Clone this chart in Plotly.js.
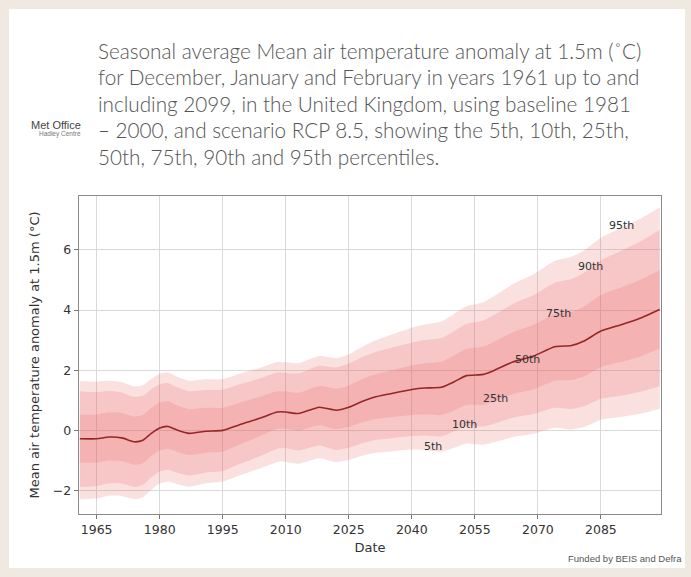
<!DOCTYPE html>
<html>
<head>
<meta charset="utf-8">
<script src="https://cdn.plot.ly/plotly-3.0.1.min.js"></script>
<style>
  html, body { margin: 0; padding: 0; background: #efe9e1; }
  #chart { width: 691px; height: 577px; }
</style>
</head>
<body>
<div id="chart"></div>
<script>
// ---- data ----
const years = [1961,1965,1968,1971,1974,1976,1978,1980,1982,1984,1987,1991,1995,1999,2004,2008,2010,2013,2018,2022,2025,2028,2031,2035,2040,2043,2047,2050,2053,2057,2060,2064,2069,2074,2078,2081,2085,2090,2094,2099];

const p50 = [-0.28,-0.28,-0.22,-0.25,-0.38,-0.33,-0.10,0.08,0.13,0.02,-0.10,-0.03,0.00,0.19,0.41,0.61,0.61,0.56,0.77,0.67,0.77,0.95,1.10,1.22,1.36,1.41,1.43,1.61,1.82,1.86,2.02,2.27,2.47,2.78,2.82,2.97,3.30,3.52,3.71,4.02];

const p75 = [0.52,0.53,0.60,0.58,0.46,0.51,0.75,0.93,0.97,0.84,0.70,0.75,0.75,0.92,1.12,1.30,1.29,1.25,1.47,1.38,1.49,1.69,1.85,1.99,2.16,2.23,2.28,2.48,2.71,2.78,2.97,3.26,3.51,3.87,3.94,4.12,4.50,4.76,4.98,5.32];

const p25 = [-1.08,-1.07,-1.00,-1.02,-1.14,-1.09,-0.85,-0.67,-0.61,-0.71,-0.82,-0.74,-0.70,-0.47,-0.19,0.05,0.06,-0.01,0.17,0.04,0.12,0.26,0.37,0.44,0.51,0.53,0.51,0.66,0.84,0.85,0.99,1.21,1.37,1.65,1.67,1.80,2.10,2.28,2.44,2.72];

const p90 = [1.30,1.27,1.31,1.26,1.11,1.15,1.36,1.53,1.57,1.44,1.30,1.34,1.35,1.53,1.73,1.92,1.91,1.89,2.15,2.09,2.22,2.42,2.59,2.74,2.91,3.00,3.07,3.29,3.54,3.65,3.87,4.20,4.50,4.91,5.03,5.24,5.65,5.98,6.25,6.67];

const p10 = [-1.88,-1.85,-1.76,-1.77,-1.88,-1.81,-1.56,-1.37,-1.31,-1.40,-1.50,-1.40,-1.35,-1.12,-0.85,-0.61,-0.59,-0.67,-0.50,-0.65,-0.58,-0.44,-0.33,-0.26,-0.19,-0.17,-0.20,-0.04,0.14,0.13,0.24,0.42,0.54,0.75,0.71,0.80,1.05,1.16,1.27,1.47];

const p95 = [1.64,1.62,1.65,1.60,1.46,1.50,1.71,1.88,1.92,1.79,1.65,1.70,1.70,1.88,2.08,2.27,2.26,2.23,2.47,2.40,2.52,2.76,2.97,3.17,3.41,3.52,3.62,3.86,4.13,4.26,4.50,4.86,5.19,5.63,5.77,5.98,6.40,6.74,7.01,7.42];

const p5 = [-2.30,-2.26,-2.17,-2.18,-2.29,-2.22,-1.97,-1.77,-1.70,-1.78,-1.87,-1.76,-1.70,-1.50,-1.26,-1.05,-1.04,-1.11,-0.93,-1.06,-0.98,-0.85,-0.75,-0.70,-0.64,-0.65,-0.71,-0.59,-0.44,-0.48,-0.38,-0.22,-0.11,0.09,0.03,0.11,0.35,0.45,0.54,0.72];

const labelText  = ["5th","10th","25th","50th","75th","90th","95th"];
const labelYears = [2045, 2052.5, 2060, 2067.5, 2075, 2082.5, 2090];
const labelVals  = [-0.54, 0.19, 1.06, 2.36, 3.89, 5.46, 6.80];

const xTicks = [1965,1980,1995,2010,2025,2040,2055,2070,2085];
const yTicks = [-2,0,2,4,6];

const titleLines = [
  "Seasonal average Mean air temperature anomaly at 1.5m (˚C)",
  "for December, January and February in years 1961 up to and",
  "including 2099, in the United Kingdom, using baseline 1981",
  "– 2000, and scenario RCP 8.5, showing the 5th, 10th, 25th,",
  "50th, 75th, 90th and 95th percentiles."
];

// ---- geometry helpers (pixel -> paper) ----
const L = 79, R = 661, T = 196, B = 514;
const px = X => (X - L) / (R - L);
const py = Y => (B - Y) / (B - T);

const bandFill = 'rgba(232,88,88,0.19)';
function band(up, lo) {
  return [
    {x: years, y: up, type: 'scatter', mode: 'lines', line: {width: 0, shape: 'spline', smoothing: 0.6}, hoverinfo: 'skip', showlegend: false},
    {x: years, y: lo, type: 'scatter', mode: 'lines', line: {width: 0, shape: 'spline', smoothing: 0.6}, fill: 'tonexty', fillcolor: bandFill, hoverinfo: 'skip', showlegend: false}
  ];
}

const traces = [
  ...band(p95, p5),
  ...band(p90, p10),
  ...band(p75, p25),
  {x: years, y: p50, type: 'scatter', mode: 'lines', line: {color: '#962626', width: 1.6, shape: 'spline', smoothing: 0.6}, showlegend: false}
];

const annotations = [];
titleLines.forEach((t, i) => {
  annotations.push({
    text: t, xref: 'paper', yref: 'paper', x: px(96), y: py(50.5 + i * 26.6),
    xanchor: 'left', yanchor: 'middle', showarrow: false, align: 'left',
    font: {family: 'Lato, "Open Sans", sans-serif', size: 20.7, weight: 300, color: '#555555'}
  });
});
labelText.forEach((t, i) => {
  annotations.push({
    text: t, x: labelYears[i], y: labelVals[i], xref: 'x', yref: 'y',
    showarrow: false, xanchor: 'center', yanchor: 'middle',
    font: {family: '"DejaVu Sans", sans-serif', size: 11, color: '#333'}
  });
});
annotations.push({
  text: 'Met Office', xref: 'paper', yref: 'paper', x: px(83), y: py(125),
  xanchor: 'right', yanchor: 'middle', showarrow: false,
  font: {family: '"Liberation Sans", Arial, sans-serif', size: 11, color: '#444'}
});
annotations.push({
  text: 'Hadley Centre', xref: 'paper', yref: 'paper', x: px(83), y: py(134),
  xanchor: 'right', yanchor: 'middle', showarrow: false,
  font: {family: '"Liberation Sans", Arial, sans-serif', size: 6.5, color: '#777'}
});
annotations.push({
  text: 'Funded by BEIS and Defra', xref: 'paper', yref: 'paper', x: px(684), y: py(558),
  xanchor: 'right', yanchor: 'middle', showarrow: false,
  font: {family: '"Liberation Sans", Arial, sans-serif', size: 9.5, color: '#555'}
});

const layout = {
  width: 691, height: 577,
  margin: {l: L, r: 691 - R, t: T, b: 577 - B, pad: 0},
  paper_bgcolor: '#efe9e1',
  plot_bgcolor: '#ffffff',
  font: {family: '"DejaVu Sans", sans-serif', color: '#333'},
  shapes: [{
    type: 'rect', xref: 'paper', yref: 'paper', layer: 'below',
    x0: px(9), x1: px(685), y0: py(568), y1: py(9),
    fillcolor: '#ffffff', line: {width: 0}
  }],
  xaxis: {
    range: [1960.8, 2099.3], tickmode: 'array', tickvals: xTicks,
    ticks: 'outside', ticklen: 4, tickcolor: '#777', tickwidth: 1,
    showline: true, linecolor: '#8a8a8a', linewidth: 1.2, mirror: true,
    showgrid: true, gridcolor: '#d9d9d9', gridwidth: 1, zeroline: false,
    tickfont: {size: 12.5, color: '#333'},
    title: {text: 'Date', font: {size: 13, color: '#333'}, standoff: 6}
  },
  yaxis: {
    range: [-2.78, 7.79], tickmode: 'array', tickvals: yTicks,
    ticks: 'outside', ticklen: 4, tickcolor: '#777', tickwidth: 1,
    showline: true, linecolor: '#8a8a8a', linewidth: 1.2, mirror: true,
    showgrid: true, gridcolor: '#d9d9d9', gridwidth: 1, zeroline: false,
    tickfont: {size: 12.5, color: '#333'},
    title: {text: 'Mean air temperature anomaly at 1.5m (°C)', font: {size: 13, color: '#333'}, standoff: 10}
  },
  annotations: annotations
};

Plotly.newPlot('chart', traces, layout, {displayModeBar: false, staticPlot: true});
</script>
</body>
</html>
